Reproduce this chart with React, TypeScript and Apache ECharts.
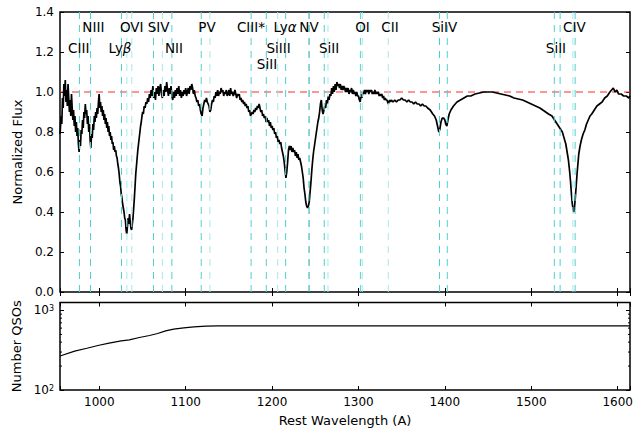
import React, { useEffect, useRef } from "react";
import * as echarts from "echarts";

const X_MIN = 954.5;
const X_MAX = 1614.3;

// Composite spectrum: [rest wavelength (A), normalized flux]
const spectrum: [number, number][] = [
  [954.6, 0.79], [955.8, 0.88], [956.6, 0.84], [957.4, 0.97], [958.2, 0.92], [959.0, 1.04], [959.8, 0.98],
  [960.6, 1.06], [961.4, 0.95], [962.2, 1.01], [963.0, 0.93], [963.8, 1.04], [964.6, 0.97], [965.4, 0.9],
  [966.2, 0.96], [967.0, 0.88], [967.8, 0.99], [968.6, 0.92], [969.4, 0.86], [970.2, 0.91], [971.0, 0.83],
  [971.8, 0.88], [972.6, 0.8], [973.4, 0.85], [974.2, 0.78], [975.0, 0.82], [975.8, 0.74], [976.6, 0.7],
  [977.4, 0.76], [978.2, 0.73], [979.0, 0.81], [979.8, 0.79], [980.6, 0.86], [981.4, 0.82], [982.2, 0.9],
  [983.0, 0.87], [983.8, 0.94], [984.6, 0.89], [985.4, 0.91], [986.2, 0.84], [987.0, 0.88], [987.8, 0.8],
  [988.6, 0.84], [989.4, 0.76], [990.2, 0.72], [991.0, 0.79], [991.8, 0.77], [992.6, 0.84], [993.4, 0.81],
  [994.2, 0.88], [995.0, 0.85], [995.8, 0.9], [996.6, 0.87], [997.4, 0.92], [998.2, 0.89], [999.0, 0.95],
  [999.8, 0.99], [1000.6, 0.92], [1001.4, 0.95], [1002.2, 0.9], [1003.0, 0.93], [1003.8, 0.88], [1004.6, 0.91],
  [1005.4, 0.86], [1006.2, 0.89], [1007.0, 0.84], [1007.8, 0.87], [1008.6, 0.82], [1009.4, 0.85], [1010.2, 0.8],
  [1011.0, 0.83], [1011.8, 0.78], [1012.6, 0.8], [1013.4, 0.76], [1014.2, 0.78], [1015.0, 0.74], [1015.8, 0.75],
  [1016.6, 0.71], [1017.4, 0.73], [1018.2, 0.7], [1019.0, 0.71], [1019.8, 0.68], [1020.6, 0.67], [1021.4, 0.64],
  [1022.2, 0.62], [1023.0, 0.59], [1023.8, 0.55], [1024.6, 0.53], [1025.4, 0.49], [1026.2, 0.47], [1027.0, 0.44],
  [1027.8, 0.42], [1028.6, 0.4], [1029.4, 0.37], [1030.2, 0.36], [1031.0, 0.31], [1031.8, 0.29], [1032.6, 0.33],
  [1033.4, 0.37], [1034.2, 0.34], [1035.0, 0.39], [1035.8, 0.35], [1036.6, 0.32], [1037.4, 0.31], [1038.2, 0.34],
  [1039.0, 0.37], [1039.8, 0.42], [1040.6, 0.47], [1041.4, 0.53], [1042.2, 0.59], [1043.0, 0.63], [1043.8, 0.67],
  [1044.6, 0.71], [1045.4, 0.74], [1046.2, 0.77], [1047.0, 0.8], [1047.8, 0.83], [1048.6, 0.85], [1049.4, 0.88],
  [1050.2, 0.9], [1051.0, 0.89], [1052.0, 0.93], [1053.0, 0.92], [1054.0, 0.95], [1055.0, 0.94], [1056.0, 0.97],
  [1057.0, 0.95], [1058.0, 0.99], [1059.0, 0.97], [1060.0, 1.01], [1061.0, 0.98], [1062.0, 1.03], [1063.0, 0.97],
  [1064.0, 1.0], [1065.0, 0.96], [1066.0, 1.02], [1067.0, 0.99], [1068.0, 1.03], [1069.0, 0.98], [1070.0, 1.02],
  [1071.0, 1.04], [1072.0, 0.99], [1073.0, 0.97], [1074.0, 1.01], [1075.0, 0.98], [1076.0, 1.03], [1077.0, 1.0],
  [1078.0, 1.05], [1079.0, 1.01], [1080.0, 0.98], [1081.0, 1.02], [1082.0, 0.99], [1083.0, 1.03], [1084.0, 0.98],
  [1085.0, 0.96], [1086.0, 1.0], [1087.0, 0.97], [1088.0, 1.01], [1089.0, 0.98], [1090.0, 1.02], [1091.0, 0.99],
  [1092.0, 1.03], [1093.0, 0.98], [1094.0, 1.01], [1095.0, 0.97], [1096.0, 1.0], [1097.0, 0.98], [1098.0, 1.01],
  [1099.0, 0.99], [1100.0, 1.02], [1101.0, 0.98], [1102.0, 1.0], [1103.0, 1.02], [1104.0, 0.99], [1105.0, 1.03],
  [1106.0, 1.01], [1107.0, 1.04], [1108.0, 1.02], [1109.0, 0.99], [1110.0, 1.01], [1111.0, 0.98], [1112.0, 0.97],
  [1113.0, 0.95], [1114.0, 0.96], [1115.0, 0.93], [1116.0, 0.94], [1117.0, 0.91], [1118.0, 0.89], [1119.0, 0.88],
  [1120.0, 0.92], [1121.0, 0.94], [1122.0, 0.96], [1123.0, 0.95], [1124.0, 0.97], [1125.0, 0.95], [1126.0, 0.94],
  [1127.0, 0.93], [1128.0, 0.9], [1129.0, 0.91], [1130.0, 0.94], [1131.0, 0.96], [1132.0, 0.95], [1133.0, 0.98],
  [1134.0, 0.97], [1135.0, 1.0], [1136.0, 0.98], [1137.0, 1.01], [1138.0, 0.98], [1139.0, 1.0], [1140.0, 0.99],
  [1141.0, 1.02], [1142.0, 1.0], [1143.0, 1.01], [1144.0, 0.98], [1145.0, 1.0], [1146.0, 0.99], [1147.0, 1.01],
  [1148.0, 0.98], [1149.0, 0.99], [1150.0, 1.01], [1151.0, 0.98], [1152.0, 1.02], [1153.0, 0.99], [1154.0, 1.0],
  [1155.0, 0.98], [1156.0, 0.99], [1157.0, 1.01], [1158.0, 0.99], [1159.0, 0.97], [1160.0, 0.99], [1161.0, 0.98],
  [1162.0, 0.99], [1163.0, 0.96], [1164.0, 0.97], [1165.0, 0.95], [1166.0, 0.96], [1167.0, 0.94], [1168.0, 0.95],
  [1169.0, 0.93], [1170.0, 0.94], [1171.0, 0.92], [1172.0, 0.93], [1173.0, 0.9], [1174.0, 0.91], [1175.0, 0.88],
  [1176.0, 0.89], [1177.0, 0.9], [1178.0, 0.89], [1179.0, 0.91], [1180.0, 0.9], [1181.0, 0.92], [1182.0, 0.91],
  [1183.0, 0.93], [1184.0, 0.92], [1185.0, 0.94], [1186.0, 0.92], [1187.0, 0.9], [1188.0, 0.91], [1189.0, 0.88],
  [1190.0, 0.89], [1191.0, 0.87], [1192.0, 0.88], [1193.0, 0.85], [1194.0, 0.87], [1195.0, 0.85], [1196.0, 0.86],
  [1197.0, 0.83], [1198.0, 0.85], [1199.0, 0.82], [1200.0, 0.83], [1201.0, 0.81], [1202.0, 0.82], [1203.0, 0.79],
  [1204.0, 0.8], [1205.0, 0.77], [1206.0, 0.78], [1207.0, 0.75], [1208.0, 0.76], [1209.0, 0.74], [1210.0, 0.75],
  [1211.0, 0.72], [1212.0, 0.7], [1213.0, 0.68], [1214.0, 0.65], [1215.0, 0.61], [1216.0, 0.57], [1217.0, 0.6],
  [1218.0, 0.65], [1219.0, 0.71], [1220.0, 0.73], [1221.0, 0.71], [1222.0, 0.73], [1223.0, 0.7], [1224.0, 0.72],
  [1225.0, 0.7], [1226.0, 0.71], [1227.0, 0.68], [1228.0, 0.7], [1229.0, 0.67], [1230.0, 0.69], [1231.0, 0.66],
  [1232.0, 0.67], [1233.0, 0.65], [1234.0, 0.63], [1235.0, 0.6], [1236.0, 0.57], [1237.0, 0.52], [1238.0, 0.49],
  [1239.0, 0.45], [1240.0, 0.43], [1241.0, 0.42], [1242.0, 0.43], [1243.0, 0.45], [1244.0, 0.5], [1245.0, 0.55],
  [1246.0, 0.61], [1247.0, 0.66], [1248.0, 0.7], [1249.0, 0.73], [1250.0, 0.76], [1251.0, 0.79], [1252.0, 0.82],
  [1253.0, 0.85], [1254.0, 0.87], [1255.0, 0.9], [1256.0, 0.94], [1257.0, 0.96], [1258.0, 0.91], [1259.0, 0.89],
  [1260.0, 0.91], [1261.0, 0.93], [1262.0, 0.92], [1263.0, 0.96], [1264.0, 0.94], [1265.0, 0.98], [1266.0, 0.96],
  [1267.0, 0.99], [1268.0, 0.98], [1269.0, 1.02], [1270.0, 0.99], [1271.0, 1.03], [1272.0, 1.0], [1273.0, 1.04],
  [1274.0, 1.01], [1275.0, 1.05], [1276.0, 1.03], [1277.0, 1.04], [1278.0, 1.02], [1279.0, 1.04], [1280.0, 1.01],
  [1281.0, 1.03], [1282.0, 1.01], [1283.0, 1.03], [1284.0, 1.02], [1285.0, 1.0], [1286.0, 1.02], [1287.0, 1.0],
  [1288.0, 1.02], [1289.0, 0.99], [1290.0, 1.01], [1291.0, 1.0], [1292.0, 1.02], [1293.0, 0.99], [1294.0, 1.01],
  [1295.0, 0.99], [1296.0, 1.0], [1297.0, 0.98], [1298.0, 1.0], [1299.0, 0.98], [1300.0, 0.98], [1301.0, 0.96],
  [1302.0, 0.95], [1303.0, 0.99], [1304.0, 0.97], [1305.0, 1.0], [1306.0, 0.99], [1307.0, 1.01], [1308.0, 0.99],
  [1309.0, 1.01], [1310.0, 1.0], [1311.0, 1.01], [1312.0, 0.99], [1313.0, 1.01], [1314.0, 1.0], [1315.0, 1.01],
  [1316.0, 0.99], [1317.0, 1.0], [1318.0, 0.99], [1319.0, 1.01], [1320.0, 0.99], [1321.0, 1.0], [1322.0, 0.99],
  [1323.0, 1.0], [1324.0, 0.98], [1325.0, 0.99], [1326.0, 0.98], [1327.0, 0.99], [1328.0, 0.97], [1329.0, 0.98],
  [1330.0, 0.96], [1331.0, 0.97], [1332.0, 0.96], [1333.0, 0.96], [1334.5, 0.94], [1336.0, 0.96], [1337.0, 0.95],
  [1338.0, 0.96], [1340.0, 0.95], [1342.0, 0.96], [1344.0, 0.95], [1346.0, 0.96], [1348.0, 0.96], [1350.0, 0.97],
  [1352.0, 0.96], [1354.0, 0.96], [1356.0, 0.95], [1358.0, 0.96], [1360.0, 0.95], [1362.0, 0.95], [1364.0, 0.94],
  [1366.0, 0.95], [1368.0, 0.94], [1370.0, 0.94], [1372.0, 0.93], [1374.0, 0.94], [1376.0, 0.93], [1378.0, 0.93],
  [1380.0, 0.92], [1383.0, 0.91], [1386.0, 0.89], [1388.0, 0.88], [1390.0, 0.86], [1391.5, 0.83], [1393.0, 0.8],
  [1394.0, 0.81], [1395.5, 0.85], [1397.0, 0.87], [1398.5, 0.87], [1400.0, 0.86], [1401.0, 0.84], [1402.3, 0.83],
  [1403.5, 0.86], [1405.0, 0.89], [1407.0, 0.91], [1410.0, 0.93], [1414.0, 0.95], [1418.0, 0.96], [1422.0, 0.97],
  [1426.0, 0.98], [1430.0, 0.98], [1435.0, 0.99], [1440.0, 0.995], [1445.0, 1.0], [1450.0, 1.0], [1455.0, 1.0],
  [1460.0, 0.995], [1465.0, 0.99], [1470.0, 0.985], [1475.0, 0.98], [1480.0, 0.97], [1485.0, 0.965], [1490.0, 0.96],
  [1495.0, 0.95], [1500.0, 0.94], [1505.0, 0.93], [1510.0, 0.92], [1515.0, 0.905], [1520.0, 0.89], [1524.0, 0.88],
  [1527.0, 0.86], [1530.0, 0.84], [1533.0, 0.82], [1536.0, 0.8], [1538.0, 0.77], [1540.0, 0.74], [1541.5, 0.7],
  [1543.0, 0.66], [1544.5, 0.6], [1545.5, 0.55], [1546.5, 0.49], [1547.5, 0.44], [1548.5, 0.41], [1549.2, 0.4],
  [1550.0, 0.42], [1551.0, 0.47], [1552.0, 0.53], [1553.0, 0.59], [1554.0, 0.64], [1555.0, 0.69], [1556.5, 0.73],
  [1558.0, 0.76], [1560.0, 0.79], [1562.0, 0.81], [1564.0, 0.84], [1566.0, 0.86], [1568.0, 0.88], [1570.0, 0.89],
  [1573.0, 0.91], [1576.0, 0.93], [1579.0, 0.94], [1582.0, 0.95], [1585.0, 0.97], [1588.0, 0.98], [1591.0, 1.0],
  [1593.0, 1.01], [1595.0, 1.02], [1597.0, 1.0], [1599.0, 1.01], [1601.0, 0.99], [1604.0, 0.99], [1607.0, 0.98],
  [1610.0, 0.98], [1613.0, 0.97], [1614.3, 0.98],
];

// Number of QSOs contributing at each wavelength
const qsoWave: number[] = [954.5, 971.5, 985.6, 999.7, 1011.3, 1025.4, 1034.7, 1046.4, 1058.1, 1067.5, 1076.8, 1086.1, 1097.8, 1109.5, 1123.6, 1137.6, 1614.3];
const qsoCount: number[] = [268, 308, 335, 365, 388, 415, 427, 457, 485, 513, 554, 582, 605, 623, 635, 641, 641];

// Absorption line markers
const lineWaves: number[] = [977.0, 989.8, 1025.7, 1031.9, 1037.6, 1062.7, 1073.0, 1084.0, 1118.0, 1128.0, 1175.7, 1193.3, 1206.5, 1215.7, 1242.8, 1260.4, 1264.7, 1302.2, 1304.4, 1334.5, 1393.8, 1402.8, 1526.7, 1533.4, 1548.2, 1550.8];
const lineTones: string[] = ["m", "m", "m", "l", "l", "m", "l", "m", "m", "l", "m", "m", "l", "m", "d", "m", "l", "m", "l", "l", "m", "m", "m", "m", "l", "m"];

// Line labels
const labelTexts: string[] = ["CIII", "NIII", "Ly{g|β}", "OVI", "SIV", "NII", "PV", "CIII*", "SiII", "SiIII", "Ly{g|α}", "NV", "SiII", "OI", "CII", "SiIV", "SiII", "CIV"];
const labelWaves: number[] = [976.2, 993.1, 1024.0, 1037.5, 1068.7, 1086.5, 1124.7, 1175.6, 1194.1, 1207.6, 1214.9, 1242.7, 1265.9, 1304.6, 1336.5, 1399.5, 1528.6, 1550.0];
const labelLevels: number[] = [1.2225, 1.325, 1.2225, 1.325, 1.325, 1.2225, 1.325, 1.325, 1.14, 1.2225, 1.325, 1.325, 1.2225, 1.325, 1.325, 1.325, 1.2225, 1.325];

const minorLogTicks: number[] = [200, 300, 400, 500, 600, 700, 800, 900];

const FONT = "DejaVu Sans";
const toneColor: Record<string, string> = { m: "#4fd0d0", l: "#a8e8e8", d: "#1aaaaa" };

export default function App() {
  const ref = useRef<HTMLDivElement>(null);
  useEffect(() => {
    if (!ref.current) return;
    const chart = echarts.init(ref.current, null, { renderer: "svg" });
    const tickStyle = { color: "#000", width: 1 };
    const hundredFmt = (v: number) => (Math.abs(v % 100) < 1e-6 ? String(Math.round(v)) : "");
    const logFmt = (v: number) => {
      const e = Math.log10(v);
      if (Math.abs(e - Math.round(e)) < 1e-6) return `{a|10}{s|${Math.round(e)}}`;
      return "";
    };
    const baseX = {
      type: "value",
      min: X_MIN,
      max: X_MAX,
      axisLine: { show: false },
      axisTick: { inside: true, length: 4, lineStyle: tickStyle },
      axisLabel: { show: false },
      splitLine: { show: false },
    };
    const option: any = {
      animation: false,
      backgroundColor: "#fff",
      textStyle: { fontFamily: FONT },
      grid: [
        { left: 60, right: 6, top: 12, height: 280, show: true, borderColor: "#000", borderWidth: 1.5, backgroundColor: "transparent" },
        { left: 60, right: 6, top: 302.5, height: 87.5, show: true, borderColor: "#000", borderWidth: 1.5, backgroundColor: "transparent" },
      ],
      xAxis: [
        { ...baseX, gridIndex: 0, position: "bottom" },
        { ...baseX, gridIndex: 0, position: "top" },
        {
          ...baseX,
          gridIndex: 1,
          position: "bottom",
          axisLabel: { show: true, color: "#000", fontSize: 12, fontFamily: FONT, margin: 6, formatter: hundredFmt },
          name: "Rest Wavelength (A)",
          nameLocation: "middle",
          nameGap: 24,
          nameTextStyle: { color: "#000", fontSize: 13, fontFamily: FONT },
        },
        { ...baseX, gridIndex: 1, position: "top" },
      ],
      yAxis: [
        {
          type: "value",
          gridIndex: 0,
          position: "left",
          min: 0,
          max: 1.4,
          interval: 0.2,
          axisLine: { show: false },
          axisTick: { inside: true, length: 4, lineStyle: tickStyle },
          axisLabel: { color: "#000", fontSize: 12, fontFamily: FONT, margin: 6, formatter: (v: number) => v.toFixed(1) },
          splitLine: { show: false },
          name: "Normalized Flux",
          nameLocation: "middle",
          nameGap: 31,
          nameTextStyle: { color: "#000", fontSize: 13, fontFamily: FONT },
        },
        {
          type: "value",
          gridIndex: 0,
          position: "right",
          min: 0,
          max: 1.4,
          interval: 0.2,
          axisLine: { show: false },
          axisTick: { inside: true, length: 4, lineStyle: tickStyle },
          axisLabel: { show: false },
          splitLine: { show: false },
        },
        {
          type: "log",
          logBase: 10,
          gridIndex: 1,
          position: "left",
          min: 100,
          max: 1260,
          axisLine: { show: false },
          axisTick: { inside: true, length: 4, lineStyle: tickStyle },
          axisLabel: {
            color: "#000",
            fontFamily: FONT,
            margin: 6,
            formatter: logFmt,
            rich: {
              a: { fontSize: 12, fontFamily: FONT, color: "#000" },
              s: { fontSize: 8, fontFamily: FONT, color: "#000", verticalAlign: "top" },
            },
          },
          splitLine: { show: false },
          name: "Number QSOs",
          nameLocation: "middle",
          nameGap: 31,
          nameTextStyle: { color: "#000", fontSize: 13, fontFamily: FONT },
        },
        {
          type: "log",
          logBase: 10,
          gridIndex: 1,
          position: "right",
          min: 100,
          max: 1260,
          axisLine: { show: false },
          axisTick: { inside: true, length: 4, lineStyle: tickStyle },
          axisLabel: { show: false },
          splitLine: { show: false },
        },
      ],
      series: [
        {
          type: "line",
          xAxisIndex: 0,
          yAxisIndex: 0,
          data: [[X_MIN, 1.0], [X_MAX, 1.0]],
          symbol: "none",
          z: 1,
          lineStyle: { color: "#ff2a2a", width: 1, type: [7, 5] },
          silent: true,
        },
        {
          type: "line",
          xAxisIndex: 0,
          yAxisIndex: 0,
          data: spectrum,
          symbol: "none",
          z: 2,
          lineStyle: { color: "#000", width: 1.7 },
          silent: true,
        },
        {
          type: "custom",
          xAxisIndex: 0,
          yAxisIndex: 0,
          z: 3,
          silent: true,
          clip: false,
          data: lineWaves.map((w, i) => [w, i]),
          renderItem: (params: any, api: any) => {
            const w = api.value(0);
            const i = api.value(1);
            const b = api.coord([w, 0]);
            const t = api.coord([w, 1.4]);
            return {
              type: "line",
              shape: { x1: b[0], y1: b[1], x2: t[0], y2: t[1] },
              style: { stroke: toneColor[lineTones[i]], lineWidth: 1, lineDash: [7, 6] },
            };
          },
        },
        {
          type: "custom",
          xAxisIndex: 0,
          yAxisIndex: 0,
          z: 4,
          silent: true,
          clip: false,
          data: labelWaves.map((w, i) => [w, labelLevels[i], i]),
          renderItem: (params: any, api: any) => {
            const p = api.coord([api.value(0), api.value(1)]);
            const i = api.value(2);
            return {
              type: "text",
              x: p[0],
              y: p[1],
              style: {
                text: labelTexts[i],
                fill: "#000",
                fontSize: 13.5,
                fontFamily: FONT,
                align: "center",
                verticalAlign: "middle",
                rich: { g: { fontSize: 13.5, fontFamily: FONT, fontStyle: "italic", fill: "#000" } },
              },
            };
          },
        },
        {
          type: "line",
          xAxisIndex: 2,
          yAxisIndex: 2,
          data: qsoWave.map((w, i) => [w, qsoCount[i]]),
          symbol: "none",
          lineStyle: { color: "#000", width: 1.2 },
          silent: true,
        },
        {
          type: "custom",
          xAxisIndex: 2,
          yAxisIndex: 2,
          silent: true,
          clip: false,
          data: minorLogTicks.map((v) => [X_MIN, v]),
          renderItem: (params: any, api: any) => {
            const v = api.value(1);
            const l = api.coord([X_MIN, v]);
            const r = api.coord([X_MAX, v]);
            return {
              type: "group",
              children: [
                { type: "line", shape: { x1: l[0], y1: l[1], x2: l[0] + 2, y2: l[1] }, style: { stroke: "#000", lineWidth: 1 } },
                { type: "line", shape: { x1: r[0], y1: r[1], x2: r[0] - 2, y2: r[1] }, style: { stroke: "#000", lineWidth: 1 } },
              ],
            };
          },
        },
      ],
    };
    chart.setOption(option);
    return () => chart.dispose();
  }, []);
  return <div ref={ref} style={{ width: 636, height: 432, position: "absolute", left: 0, top: 0 }} />;
}
